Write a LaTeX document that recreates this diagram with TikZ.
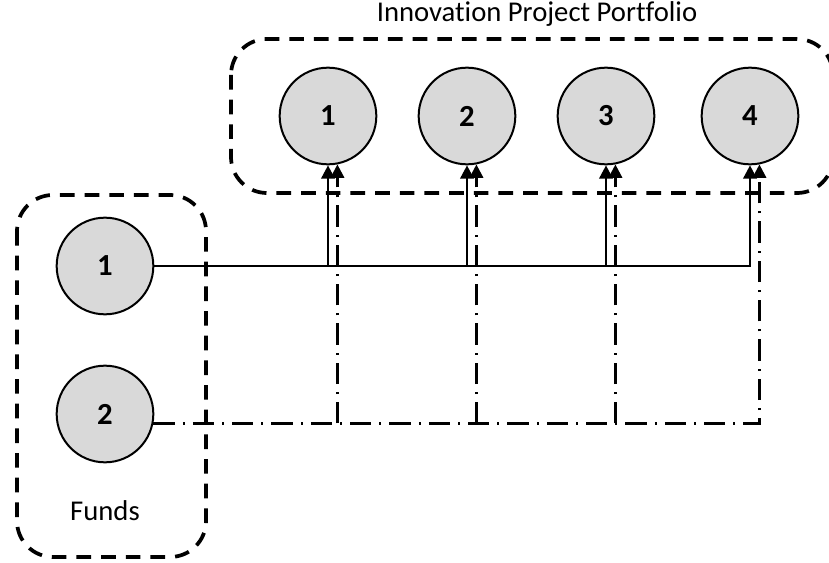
\documentclass[tikz,border=0pt]{standalone}
\usepackage{fontspec}
\setmainfont{Carlito}[Ligatures=NoCommon]
\usetikzlibrary{arrows.meta}

\begin{document}
\begin{tikzpicture}[x=0.75pt,y=-0.75pt,
        font=\fontsize{21.5}{25}\selectfont,
        disc/.style={circle, draw, line width=1.5pt, fill=gray!30, minimum size=72.5pt, inner sep=0pt, font=\fontsize{23}{27}\selectfont\bfseries},
        groupbox/.style={line width=2.8pt, rounded corners=27pt, dash pattern=on 11pt off 7.5pt},
        mainflow/.style={line width=2pt, -{Triangle[length=10pt,width=10pt]}},
        altflow/.style={line width=1.9pt, dash pattern=on 16pt off 6pt on 1.5pt off 6pt, -{Triangle[length=10pt,width=10pt]}}]
    \useasboundingbox (0,0) rectangle (829,563);

    % groups
    \draw[groupbox] (231,39) rectangle (833,193);
    \draw[groupbox] (17,195) rectangle (206,557);
    \node (title) at (537,14) {Innovation Project Portfolio};
    \node (funds) at (105,511) {Funds};

    % projects
    \node[disc] (p1) at (328,116) {1};
    \node[disc] (p2) at (467,116) {2};
    \node[disc] (p3) at (606,116) {3};
    \node[disc] (p4) at (750,116) {4};

    % funds
    \node[disc] (f1) at (105,266) {1};
    \node[disc] (f2) at (105,414) {2};

    % fund 1 to every project
    \draw[mainflow] (f1.east) -| (p4.south);
    \foreach \p in {p1,p2,p3}
        \draw[mainflow] (f1.east -| \p.south) -- (\p.south);

    % fund 2 to every project
    \draw[altflow] (f2.-11) -| (p4.-79);
    \foreach \p in {p1,p2,p3}
        \draw[altflow] (f2.-11 -| \p.-79) -- (\p.-79);
\end{tikzpicture}
\end{document}
